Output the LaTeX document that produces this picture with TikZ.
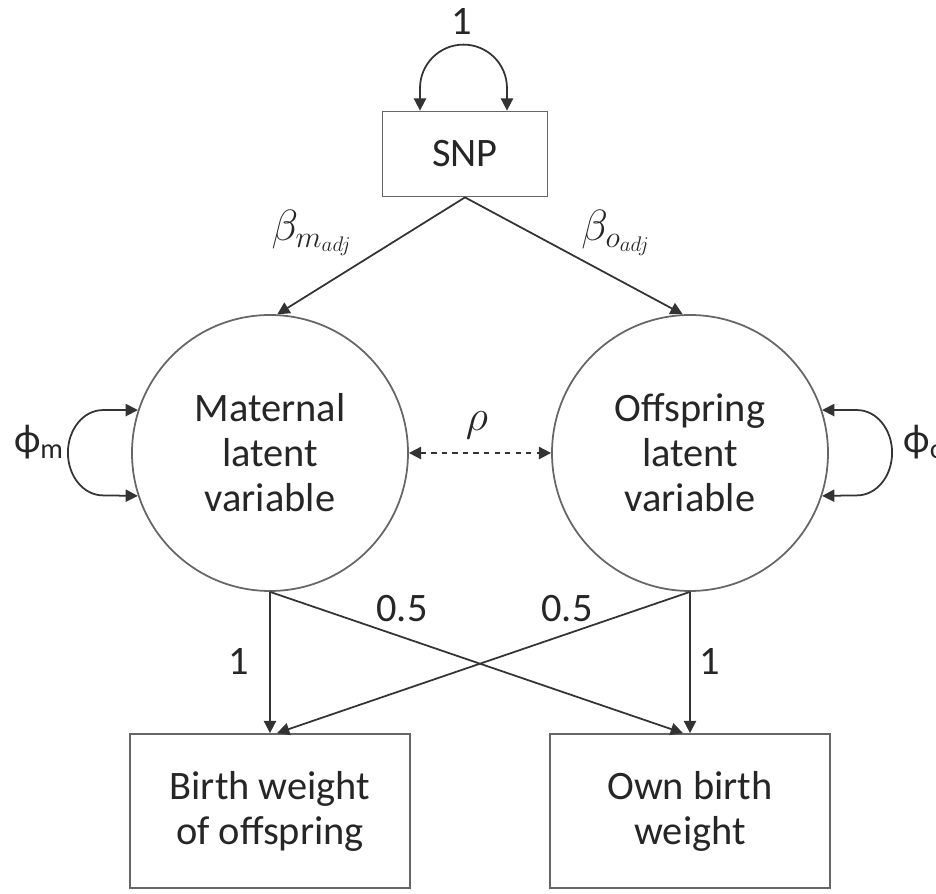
\documentclass[tikz,border=0pt]{standalone}
\usepackage{fontspec}
\setmainfont{Carlito}
\usetikzlibrary{arrows.meta,calc,positioning}
\tikzset {
  >={Triangle[length=7pt,width=7pt]},
  every node/.style={font=\fontsize{23}{25.6}\selectfont,text=black!85},
  latent/.style={circle,draw=black!60,line width=1pt,minimum size=5.52cm,
    inner sep=0pt,align=center},
  observed/.style={rectangle,draw=black!60,line width=1pt,align=center},
  reg/.style={->,draw=black!80,line width=1pt},
  covar/.style={<->,draw=black!80,line width=1pt},
}

\begin{document}
\begin{tikzpicture}
  \useasboundingbox (0,0) rectangle (18.72,-17.88);

  \node[observed,minimum width=3.3cm,minimum height=1.7cm] (snp) at (9.3,-3.08) {SNP};
  \node[latent] (mat) at (5.4,-9.06) {Maternal\\latent\\variable};
  \node[latent] (off) at (13.8,-9.06) {Offspring\\latent\\variable};
  \node[observed,minimum width=5.6cm,minimum height=3.08cm] (bwo) at (5.4,-16.22)
    {Birth weight\\of offspring};
  \node[observed,minimum width=5.6cm,minimum height=3.08cm] (obw) at (13.8,-16.22)
    {Own birth\\weight};

  \draw[reg] (snp.south) -- (mat.87);
  \draw[reg] (snp.south) -- (off.93);
  \draw[reg] (mat.south) -- (bwo.north);
  \draw[reg] (off.south) -- (obw.north);
  \draw[reg] (mat.south) -- ([xshift=-4pt]obw.north);
  \draw[reg] (off.south) -- ([xshift=4pt]bwo.north);

  % variances
  \draw[covar] ([xshift=-0.9cm]snp.north) -- ++(0,0.45)
    arc[start angle=180,end angle=0,radius=0.87cm] -- ([xshift=0.84cm]snp.north);
  \draw[covar] (mat.162) -- ++(-0.7,0)
    arc[start angle=90,end angle=270,x radius=0.7cm,y radius=0.853cm] -- (mat.198);
  \draw[covar] (off.18) -- ++(0.7,0)
    arc[start angle=90,end angle=-90,x radius=0.7cm,y radius=0.853cm] -- (off.-18);
  \draw[covar,dashed] (mat) -- (off);

  \node (snpvar) at (9.24,-0.44) {1};
  \node (bm) at (6.24,-4.66) {$\beta_{m_{adj}}$};
  \node (bo) at (12.32,-4.66) {$\beta_{o_{adj}}$};
  \node (rho) at (9.54,-8.5) {$\rho$};
  \node (phim) at (0.78,-8.84) {ϕ\textsubscript{m}};
  \node[anchor=west,inner sep=0pt] (phio) at (18.06,-8.84) {ϕ\textsubscript{o}};
  \node (lmo) at (8.04,-12.18) {0.5};
  \node (lom) at (11.34,-12.18) {0.5};
  \node (lmm) at (4.78,-13.24) {1};
  \node (loo) at (14.2,-13.24) {1};
\end{tikzpicture}
\end{document}
